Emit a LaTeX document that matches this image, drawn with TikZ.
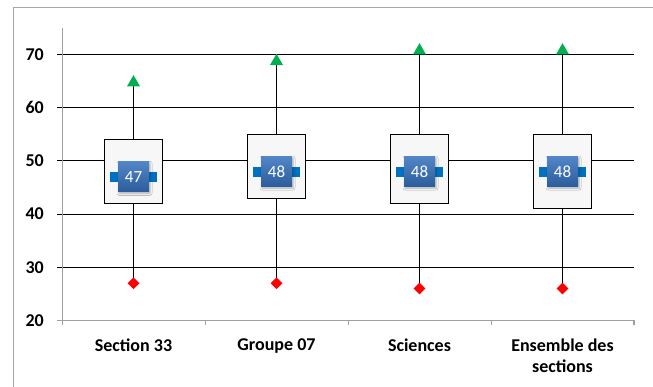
\documentclass[tikz,border=0pt]{standalone}
\usepackage{fontspec}
\setmainfont{Carlito}
\usetikzlibrary{shapes.geometric,shadows.blur}
\definecolor{gridgray}{HTML}{A0A0A0}
\definecolor{framegray}{HTML}{A6A6A6}
\definecolor{boxfill}{HTML}{F7F7F7}
\definecolor{bartop}{HTML}{5286C6}
\definecolor{barbot}{HTML}{2C5C9C}
\definecolor{medbar}{HTML}{0070C0}
\definecolor{maxgreen}{HTML}{00B050}
\newcommand\V[1]{(66.5+((#1)-20)*5.32)}
\tikzset{
  ylab/.style={anchor=east,font=\bfseries\fontsize{18}{20}\selectfont,inner sep=0pt},
  catlab/.style={align=center,font=\bfseries\fontsize{18}{20.7}\selectfont,inner sep=0pt},
  grid/.style={line width=1.1pt,black},
  axisline/.style={line width=1.1pt,gridgray},
  whisk/.style={line width=1.1pt,black},
  boxst/.style={draw=black,line width=1.1pt,fill=boxfill,minimum width=57.6pt,inner sep=0pt},
  medbarst/.style={fill=medbar,minimum width=47pt,minimum height=10pt,inner sep=0pt},
  medbox/.style={top color=bartop,bottom color=barbot,minimum width=31pt,minimum height=30pt,inner sep=0pt,text=white,font=\fontsize{17}{19}\selectfont,blur shadow={shadow xshift=1pt,shadow yshift=-1.5pt,shadow blur radius=2pt,shadow opacity=30}},
  maxmark/.style={regular polygon,regular polygon sides=3,fill=maxgreen,minimum size=15pt,inner sep=0pt},
  minmark/.style={diamond,fill=red,minimum width=12pt,minimum height=12pt,inner sep=0pt},
}
\begin{document}
\begin{tikzpicture}[x=1pt,y=1pt]
\useasboundingbox (0,0) rectangle (653,387);
\begin{scope}
\clip (0,0) rectangle (653,387);
\draw[line width=1.3pt,framegray] (13.5,-50) -- (13.5,379.5) -- (700,379.5);
\end{scope}
% gridlines
\foreach \v in {30,40,50,60,70}{
  \draw[grid] (57,{\V{\v}}) -- (634,{\V{\v}});
}
\foreach \v in {20,30,40,50,60,70}{
  \node[ylab] (yl\v) at (44,{\V{\v}}) {\v};
}
% axes
\coordinate (ax0) at (62.5,66.5);
\coordinate (axtop) at (62.5,{\V{75}});
\coordinate (axr) at (634,66.5);
\draw[axisline] (axtop) -- (ax0) -- (axr);
\draw[axisline] (57,66.5) -- (ax0);
\foreach \x in {62.5,205.5,348.5,491.5,634}{
  \draw[axisline] (\x,66.5) -- (\x,61.5);
}
% categories: x, q1, q3, max, min, median
\foreach \i/\x/\qa/\qb/\mx/\mn/\md in {1/133.5/42/54/65/27/47,2/276.5/43/55/69/27/48,3/419.5/42/55/71/26/48,4/562.5/41/55/71/26/48}{
  \pgfmathsetmacro\bh{(\qb-\qa)*5.32}
  \pgfmathsetmacro\by{66.5+((\qa+\qb)/2-20)*5.32}
  \coordinate (max\i) at (\x,{\V{\mx}});
  \coordinate (min\i) at (\x,{\V{\mn}});
  \draw[whisk] (max\i) -- (min\i);
  \node[boxst,minimum height=\bh pt] (box\i) at (\x,\by) {};
  \node[medbarst] (mb\i) at (\x,{\V{\md}}) {};
  \node[medbox] (md\i) at (\x,{\V{\md}}) {\md};
  \node[maxmark] (mxm\i) at ([yshift=-1.5pt]max\i) {};
  \node[minmark] (mnm\i) at (min\i) {};
}
\node[catlab] (c1) at (133.5,41.3) {Section 33};
\node[catlab] (c2) at (276.5,41.3) {Groupe 07};
\node[catlab] (c3) at (419.5,41.3) {Sciences};
\node[catlab] (c4) at (562.5,31) {Ensemble des\\sections};
\end{tikzpicture}
\end{document}
